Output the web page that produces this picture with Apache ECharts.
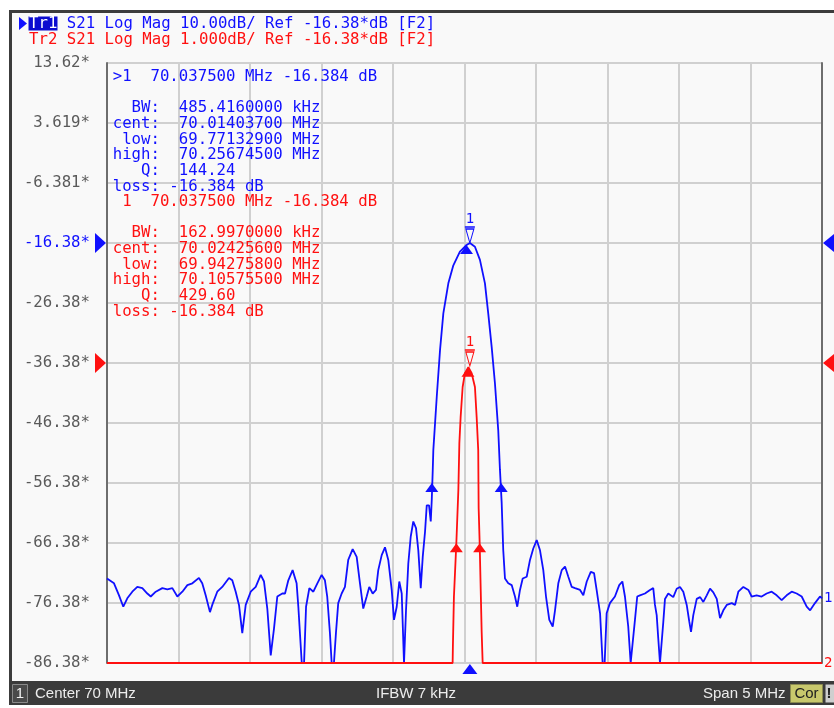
<!DOCTYPE html>
<html><head><meta charset="utf-8">
<script src="https://cdn.jsdelivr.net/npm/echarts@6/dist/echarts.min.js"></script>
<style>html,body{margin:0;padding:0;background:#fff;}#c{width:834px;height:708px;}</style>
</head><body><div id="c"></div>
<script>
// ---- stimulus / scale ----
const freqStart = 67.5, freqStop = 72.5, freqDiv = 0.5;
const tr1Min = -86.38, tr1Max = 13.62, tr1Div = 10;
const tr2Min = -21.38, tr2Max = -11.38, tr2Div = 1;
const refLevel = -16.38;
const yTickLabels = ['-86.38*','-76.38*','-66.38*','-56.38*','-46.38*','-36.38*','-26.38*','-16.38*','-6.381*','3.619*','13.62*'];

// ---- Trace 1 (S21, 10 dB/div) ----
const tr1Freq = [67.5,67.549,67.584,67.614,67.642,67.677,67.712,67.747,67.782,67.806,67.841,67.887,67.922,67.957,67.992,68.027,68.062,68.097,68.143,68.166,
68.19,68.22,68.236,68.271,68.306,68.353,68.376,68.4,68.423,68.446,68.47,68.505,68.54,68.575,68.598,68.621,68.645,68.668,68.691,68.726,
68.745,68.768,68.798,68.826,68.838,68.862,68.878,68.892,68.915,68.943,68.971,69.001,69.024,69.04,69.059,69.071,69.087,69.101,69.117,69.141,
69.164,69.187,69.218,69.246,69.269,69.292,69.316,69.334,69.358,69.381,69.397,69.421,69.444,69.467,69.491,69.507,69.526,69.544,69.561,69.577,
69.591,69.607,69.624,69.642,69.661,69.677,69.694,69.708,69.724,69.736,69.752,69.764,69.771,69.778,69.782,69.806,69.829,69.852,69.887,69.922,
69.968,70.015,70.0375,70.073,70.108,70.143,70.166,70.19,70.213,70.236,70.248,70.26,70.271,70.283,70.306,70.33,70.353,70.369,70.388,70.407,
70.435,70.458,70.481,70.505,70.528,70.551,70.57,70.593,70.617,70.633,70.656,70.68,70.703,70.726,70.75,70.773,70.808,70.831,70.855,70.883,
70.906,70.924,70.948,70.966,70.98,70.994,71.017,71.052,71.082,71.104,71.122,71.145,71.162,71.173,71.192,71.208,71.227,71.262,71.297,71.32,
71.332,71.344,71.355,71.367,71.379,71.39,71.402,71.425,71.46,71.484,71.507,71.53,71.554,71.572,71.584,71.6,71.624,71.648,71.67,71.694,
71.717,71.74,71.764,71.787,71.81,71.834,71.869,71.892,71.915,71.95,71.985,72.008,72.043,72.078,72.113,72.148,72.183,72.218,72.253,72.288,
72.323,72.358,72.393,72.417,72.451,72.486,72.5];
const tr1Mag = [-72.3,-73.1,-75.1,-77.0,-75.6,-74.5,-73.7,-73.9,-74.8,-75.3,-74.5,-73.9,-74.1,-73.9,-75.3,-74.5,-73.4,-73.1,-72.2,-73.1,
-75.1,-77.9,-76.7,-74.5,-73.7,-72.2,-72.6,-74.5,-76.7,-81.4,-76.7,-74.5,-73.7,-71.7,-72.8,-77.3,-85.1,-80.6,-75.3,-74.8,
-74.8,-72.6,-70.9,-73.1,-77.0,-86.38,-86.38,-77.0,-73.9,-74.5,-73.1,-71.7,-72.6,-75.3,-81.4,-86.38,-86.38,-81.4,-76.4,-74.8,
-73.7,-69.2,-67.4,-68.7,-73.1,-77.3,-75.3,-73.7,-74.8,-74.2,-70.9,-68.4,-67.1,-69.2,-74.2,-79.2,-77.0,-72.8,-74.8,-86.38,
-77.6,-69.8,-65.3,-62.8,-63.9,-67.6,-73.9,-68.7,-64.5,-60.1,-60.1,-62.8,-59.2,-54.2,-50.9,-42.0,-34.2,-28.1,-23.1,-20.1,
-17.8,-16.7,-16.384,-17.0,-19.2,-23.1,-28.1,-33.7,-39.8,-47.6,-54.2,-59.7,-67.6,-72.3,-73.1,-73.4,-75.3,-77.0,-74.2,-72.3,
-72.0,-69.2,-67.3,-65.9,-67.6,-70.9,-75.3,-79.2,-80.3,-77.6,-73.1,-70.9,-70.3,-72.0,-73.7,-73.9,-74.2,-75.1,-72.8,-71.2,
-71.4,-74.2,-78.1,-86.38,-86.38,-78.1,-76.4,-75.3,-73.4,-72.8,-75.3,-80.3,-86.38,-86.38,-79.2,-75.3,-75.1,-74.8,-74.2,-73.9,
-76.7,-78.4,-82.3,-86.38,-86.38,-79.6,-75.7,-74.8,-75.4,-74.0,-73.7,-74.5,-76.7,-79.5,-81.2,-78.4,-75.7,-75.4,-76.2,-75.1,
-74.0,-74.6,-75.7,-78.9,-77.6,-76.7,-76.4,-76.7,-74.5,-73.7,-74.2,-75.3,-75.1,-75.3,-74.8,-74.5,-75.1,-75.9,-75.1,-74.5,
-74.8,-75.3,-77.0,-77.6,-76.4,-75.3,-75.6];

// ---- Trace 2 (S21, 1 dB/div), clipped at the bottom of its scale ----
const tr2Freq = [67.5,69.917,69.919,69.926,69.943,69.957,69.964,69.973,69.987,70.003,70.027,70.0375,70.05,70.073,70.085,70.096,70.099,70.106,70.12,70.127,72.5];
const tr2Mag  = [-21.38,-21.38,-21.08,-20.28,-19.38,-18.5,-17.72,-17.28,-16.78,-16.55,-16.45,-16.43,-16.55,-16.78,-17.28,-17.83,-18.8,-19.38,-20.86,-21.38,-21.38];

// ---- markers ----
const markerFreq = 70.0375, markerMag1 = -16.384, markerMag2 = -16.43;
const tr1BwFreq = [69.771329, 70.256745]; const tr1BwLevel = -56.384;
const tr1CentFreq = 70.014037, tr1CentMag = -16.7;
const tr2BwFreq = [69.942758, 70.105755]; const tr2BwLevel = -19.384;
const tr2CentFreq = 70.024256, tr2CentMag = -16.46;

const tr1Readout = ['>1  70.037500 MHz -16.384 dB','','  BW:  485.4160000 kHz','cent:  70.01403700 MHz',' low:  69.77132900 MHz','high:  70.25674500 MHz','   Q:  144.24','loss: -16.384 dB'];
const tr2Readout = [' 1  70.037500 MHz -16.384 dB','','  BW:  162.9970000 kHz','cent:  70.02425600 MHz',' low:  69.94275800 MHz','high:  70.10575500 MHz','   Q:  429.60','loss: -16.384 dB'];
const header1 = 'Tr1 S21 Log Mag 10.00dB/ Ref -16.38*dB [F2]';
const header2 = 'Tr2 S21 Log Mag 1.000dB/ Ref -16.38*dB [F2]';
const statusTexts = ['Center 70 MHz', 'IFBW 7 kHz', 'Span 5 MHz'];

if (tr1Freq.length !== tr1Mag.length) throw new Error('tr1 len ' + tr1Freq.length + ' ' + tr1Mag.length);
if (tr2Freq.length !== tr2Mag.length) throw new Error('tr2 len');

const BLUE = '#1010ff', RED = '#ff1010', MONO = "'DejaVu Sans Mono', monospace", FS = 15.7;
const SANS = "'Liberation Sans', Arial, sans-serif";

const tr1Data = tr1Freq.map((f, i) => [f, tr1Mag[i]]);
const tr2Data = tr2Freq.map((f, i) => [f, tr2Mag[i]]);

const markSym = 'path://M0,0 L10,0 M1,2 L9,2 L5,16 Z';

const chart = echarts.init(document.getElementById('c'), null, {renderer: 'canvas', width: 834, height: 708});

const g = [
  {type: 'rect', z: -20, shape: {x: 0, y: 0, width: 834, height: 708}, style: {fill: '#ffffff'}},
  {type: 'rect', z: -19, shape: {x: 12, y: 13, width: 822, height: 668}, style: {fill: '#f9f9f9'}},
  {type: 'rect', z: -18, shape: {x: 9, y: 10, width: 825, height: 3}, style: {fill: '#3c3c3c'}},
  {type: 'rect', z: -18, shape: {x: 9, y: 10, width: 3, height: 672}, style: {fill: '#3c3c3c'}},
  // header
  {type: 'text', x: 29, y: 24, style: {text: header1, fill: BLUE, font: FS + 'px ' + MONO, textVerticalAlign: 'middle'}},
  {type: 'rect', shape: {x: 28.5, y: 16.5, width: 29, height: 14}, style: {fill: '#0c0cd0'}},
  {type: 'text', x: 29, y: 24, style: {text: 'Tr1', fill: '#ffffff', font: FS + 'px ' + MONO, textVerticalAlign: 'middle'}},
  {type: 'polygon', shape: {points: [[19, 17], [27, 23.5], [19, 30]]}, style: {fill: BLUE}},
  {type: 'text', x: 29, y: 40, style: {text: header2, fill: RED, font: FS + 'px ' + MONO, textVerticalAlign: 'middle'}},
  // marker readouts
  {type: 'text', x: 112.7, y: 68.9, z: 10, style: {text: tr1Readout.join('\n'), fill: BLUE, font: FS + 'px ' + MONO, lineHeight: 15.7, textVerticalAlign: 'top'}},
  {type: 'text', x: 112.7, y: 193.9, z: 10, style: {text: tr2Readout.join('\n'), fill: RED, font: FS + 'px ' + MONO, lineHeight: 15.7, textVerticalAlign: 'top'}},
  // status bar
  {type: 'rect', shape: {x: 9, y: 681, width: 825, height: 24}, style: {fill: '#3b3b3b'}},
  {type: 'rect', shape: {x: 12.5, y: 684.5, width: 15, height: 18}, style: {fill: '#4a4a4a', stroke: '#8a8a8a', lineWidth: 1}},
  {type: 'text', x: 20, y: 693.5, style: {text: '1', fill: '#f0f0f0', font: '15px ' + SANS, textAlign: 'center', textVerticalAlign: 'middle'}},
  {type: 'text', x: 35, y: 693.5, style: {text: statusTexts[0], fill: '#ececec', font: '15px ' + SANS, textVerticalAlign: 'middle'}},
  {type: 'text', x: 376, y: 693.5, style: {text: statusTexts[1], fill: '#ececec', font: '15px ' + SANS, textVerticalAlign: 'middle'}},
  {type: 'text', x: 703, y: 693.5, style: {text: statusTexts[2], fill: '#ececec', font: '15px ' + SANS, textVerticalAlign: 'middle'}},
  {type: 'rect', shape: {x: 790.5, y: 684.5, width: 32, height: 18}, style: {fill: '#c8c86c', stroke: '#8a8a50', lineWidth: 1}},
  {type: 'text', x: 806.5, y: 693.5, style: {text: 'Cor', fill: '#202020', font: '15px ' + SANS, textAlign: 'center', textVerticalAlign: 'middle'}},
  {type: 'rect', shape: {x: 825.5, y: 684.5, width: 9, height: 18}, style: {fill: '#cfcfcf'}},
  {type: 'text', x: 829, y: 693.5, style: {text: '!', fill: '#202020', font: 'bold 15px ' + SANS, textAlign: 'center', textVerticalAlign: 'middle'}}
];

const option = {
  animation: false,
  backgroundColor: '#ffffff',
  grid: {left: 107, right: 12, top: 63, bottom: 45, containLabel: false},
  xAxis: {
    type: 'value', min: freqStart, max: freqStop, interval: freqDiv,
    axisLabel: {show: false}, axisTick: {show: false}, axisLine: {show: false},
    splitLine: {show: true, lineStyle: {color: '#d0d0d0', width: 2}}
  },
  yAxis: [{
    type: 'value', min: tr1Min, max: tr1Max, interval: tr1Div, position: 'left',
    axisLine: {show: true, lineStyle: {color: '#6e6e6e', width: 2}},
    axisTick: {show: false},
    splitLine: {show: true, lineStyle: {color: '#d0d0d0', width: 2}},
    axisLabel: {
      margin: 17, color: '#5a5a5a', fontFamily: MONO, fontSize: FS, showMinLabel: true, showMaxLabel: true,
      formatter: (v, i) => i === 7 ? '{b|' + yTickLabels[i] + '}' : (yTickLabels[i] || ''),
      rich: {b: {color: BLUE, fontFamily: MONO, fontSize: FS}}
    }
  }, {
    type: 'value', min: tr2Min, max: tr2Max, interval: tr2Div, position: 'right',
    axisLine: {show: true, lineStyle: {color: '#6e6e6e', width: 2}},
    axisTick: {show: false}, axisLabel: {show: false}, splitLine: {show: false}
  }],
  series: [{
    name: 'Tr1', type: 'line', yAxisIndex: 0, data: tr1Data, showSymbol: false, z: 3,
    lineStyle: {color: BLUE, width: 1.8}, itemStyle: {color: BLUE},
    endLabel: {show: true, formatter: '1', color: BLUE, fontFamily: MONO, fontSize: 14, distance: 2},
    markPoint: {
      symbol: 'triangle', symbolSize: [13, 9], symbolOffset: [0, 4.5],
      itemStyle: {color: BLUE}, label: {show: false},
      data: [
        {coord: [tr1BwFreq[0], tr1BwLevel]},
        {coord: [tr1BwFreq[1], tr1BwLevel]},
        {coord: [tr1CentFreq, tr1CentMag]},
        {coord: [markerFreq, tr1Min], symbolSize: [15, 10], symbolOffset: [0, 6]},
        {coord: [markerFreq, markerMag1], symbol: markSym, symbolSize: [10, 16], symbolOffset: [0, -8],
         itemStyle: {color: 'rgba(0,0,0,0)', borderColor: BLUE, borderWidth: 1.2},
         label: {show: true, formatter: '1', position: 'top', distance: 0, color: BLUE, fontFamily: MONO, fontSize: 14}}
      ]
    }
  }, {
    name: 'Tr2', type: 'line', yAxisIndex: 1, data: tr2Data, showSymbol: false, z: 4,
    lineStyle: {color: RED, width: 1.8}, itemStyle: {color: RED},
    endLabel: {show: true, formatter: '2', color: RED, fontFamily: MONO, fontSize: 14, distance: 2},
    markPoint: {
      symbol: 'triangle', symbolSize: [13, 9], symbolOffset: [0, 4.5],
      itemStyle: {color: RED}, label: {show: false},
      data: [
        {coord: [tr2BwFreq[0], tr2BwLevel]},
        {coord: [tr2BwFreq[1], tr2BwLevel]},
        {coord: [tr2CentFreq, tr2CentMag]},
        {coord: [markerFreq, markerMag2], symbol: markSym, symbolSize: [10, 16], symbolOffset: [0, -8],
         itemStyle: {color: 'rgba(0,0,0,0)', borderColor: RED, borderWidth: 1.2},
         label: {show: true, formatter: '1', position: 'top', distance: 0, color: RED, fontFamily: MONO, fontSize: 14}}
      ]
    }
  }],
  graphic: {elements: g}
};
chart.setOption(option);

// reference-level indicators placed through the axes
const y1 = chart.convertToPixel({yAxisIndex: 0}, refLevel);
const y2 = chart.convertToPixel({yAxisIndex: 1}, refLevel);
const xl = chart.convertToPixel({xAxisIndex: 0}, freqStart);
const xr = chart.convertToPixel({xAxisIndex: 0}, freqStop);
const tris = [];
[[y1, BLUE], [y2, RED]].forEach(([y, c]) => {
  tris.push({type: 'polygon', z: 20, shape: {points: [[xl - 12, y - 10], [xl - 1, y], [xl - 12, y + 10]]}, style: {fill: c}});
  tris.push({type: 'polygon', z: 20, shape: {points: [[xr + 12, y - 9], [xr + 1, y], [xr + 12, y + 9]]}, style: {fill: c}});
});
chart.setOption({graphic: {elements: g.concat(tris)}});
</script>
</body></html>
